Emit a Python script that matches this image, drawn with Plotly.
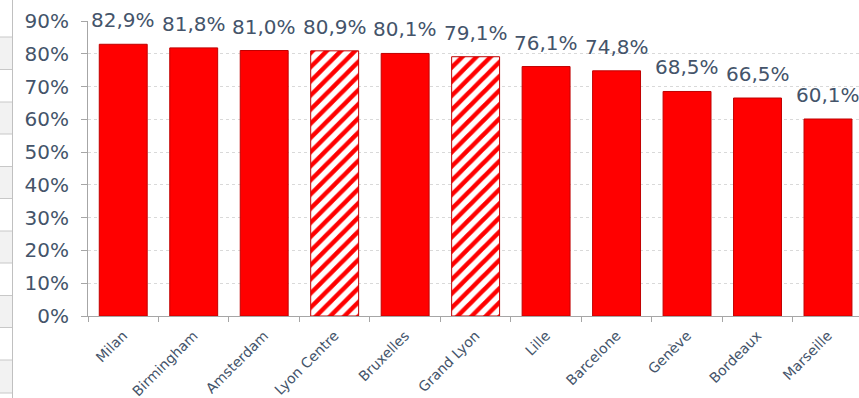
import plotly.graph_objects as go

cities = ["Milan", "Birmingham", "Amsterdam", "Lyon Centre", "Bruxelles", "Grand Lyon",
          "Lille", "Barcelone", "Genève", "Bordeaux", "Marseille"]
values = [0.829, 0.818, 0.810, 0.809, 0.801, 0.791, 0.761, 0.748, 0.685, 0.665, 0.601]
hatched = [False, False, False, True, False, True, False, False, False, False, False]
labels = ["82,9%", "81,8%", "81,0%", "80,9%", "80,1%", "79,1%", "76,1%", "74,8%", "68,5%", "66,5%", "60,1%"]

RED = "#ff0000"
DARK = "#c00000"
TXT = "#44546a"
FONT = "DejaVu Sans"

W, H = 859, 398
ML, MR, MT, MB = 88, 0, 21, 82
PW, PH = W - ML - MR, H - MT - MB

fig = go.Figure()
fig.add_trace(go.Bar(
    x=cities, y=values, width=0.68,
    marker=dict(
        color=RED,
        line=dict(color=DARK, width=1),
        pattern=dict(
            shape=["/" if h else "" for h in hatched],
            fgcolor=[RED] * len(cities), bgcolor=["white"] * len(cities),
            size=10, solidity=0.45, fillmode="replace",
        ),
    ),
    hoverinfo="skip",
))

for c, v, t in zip(cities, values, labels):
    fig.add_annotation(x=c, y=v, text=t, showarrow=False, yanchor="middle", yshift=24,
                       font=dict(family=FONT, size=20, color=TXT))

# spreadsheet background on the left
def px2x(px):
    return (px - ML) / PW

def py2y(py):
    return (H - MB - py) / PH

rows = [0, 37, 69.5, 102, 134, 166.5, 198.5, 231, 263, 295.5, 327.5, 360, 393]
shapes = []
for i in range(len(rows) - 1):
    fill = "#f2f2f2" if i % 2 == 1 else "white"
    shapes.append(dict(type="rect", xref="paper", yref="paper",
                       x0=px2x(0), x1=px2x(12), y0=py2y(rows[i + 1]), y1=py2y(rows[i]),
                       fillcolor=fill, line=dict(width=0), layer="below"))
for r in rows[1:]:
    shapes.append(dict(type="line", xref="paper", yref="paper",
                       x0=px2x(0), x1=px2x(12), y0=py2y(r), y1=py2y(r),
                       line=dict(color="#c8c8c8", width=1)))
shapes.append(dict(type="line", xref="paper", yref="paper",
                   x0=px2x(12.5), x1=px2x(12.5), y0=py2y(0), y1=py2y(398),
                   line=dict(color="#c0c0c0", width=1)))

fig.update_layout(
    width=W, height=H,
    margin=dict(l=ML, r=MR, t=MT, b=MB, pad=0, autoexpand=False),
    paper_bgcolor="white", plot_bgcolor="white",
    showlegend=False, bargap=0.32,
    font=dict(family=FONT, color=TXT),
    shapes=shapes,
    xaxis=dict(
        range=[-0.5, 10.44], tickangle=-45, tickson="boundaries",
        ticks="outside", ticklen=5, tickcolor="#a6a6a6",
        showline=True, linecolor="#a6a6a6", linewidth=1,
        ticklabelstandoff=5, automargin=False,
        tickfont=dict(family=FONT, size=14, color=TXT), showgrid=False,
    ),
    yaxis=dict(
        range=[0, 0.9], dtick=0.1, tickformat=".0%",
        ticks="outside", ticklen=6, tickcolor="#a6a6a6",
        showline=True, linecolor="#a6a6a6", linewidth=1,
        showgrid=True, gridcolor="#d9d9d9", griddash="dot", gridwidth=1,
        zeroline=False, ticklabelstandoff=8, automargin=False,
        tickfont=dict(family=FONT, size=20, color=TXT),
    ),
)

fig.write_html("out.html")
